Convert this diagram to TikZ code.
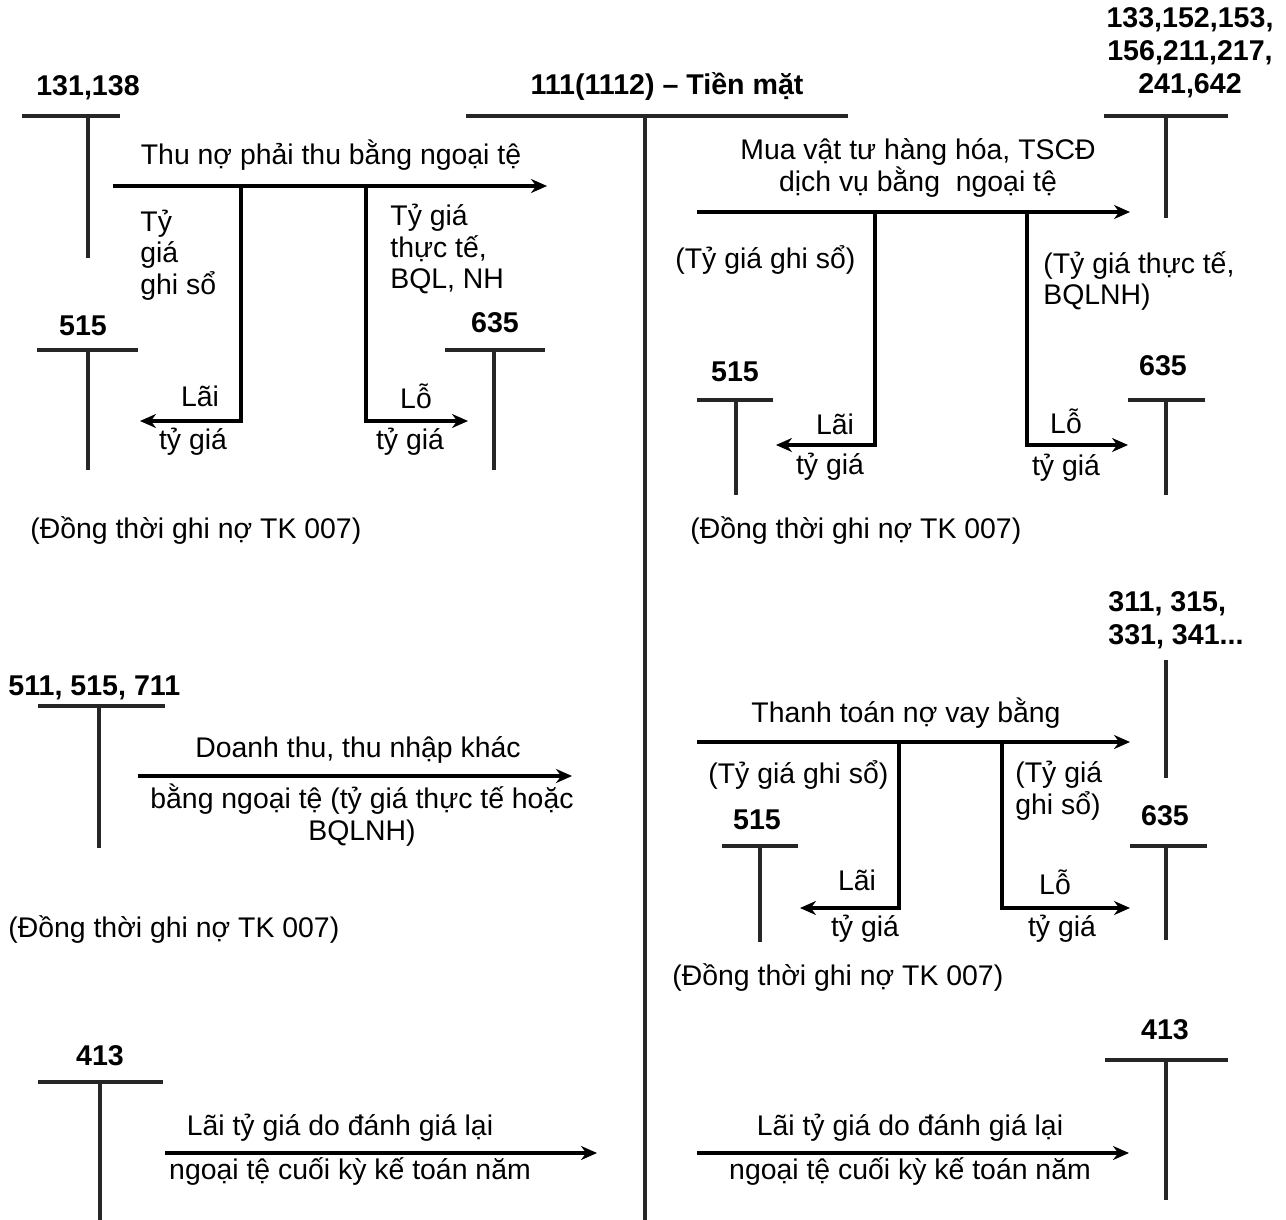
\documentclass[tikz,border=0pt]{standalone}
\usepackage{fontspec}
\setmainfont{Liberation Sans}
\usetikzlibrary{arrows.meta}
\tikzset{
  ln/.style={line width=1.6pt, draw=black!85},
  arr/.style={line width=1.6pt, -{Stealth[length=8pt,width=7pt]}},
  acc/.style={font=\fontsize{14.3}{16.5}\selectfont\bfseries, inner sep=0pt, align=center},
  lbl/.style={font=\fontsize{14.2}{15.8}\selectfont, inner sep=0pt, align=center},
  lbll/.style={font=\fontsize{14.2}{15.8}\selectfont, inner sep=0pt, align=left, anchor=west},
}
\begin{document}
\begin{tikzpicture}[x=0.5pt,y=-0.5pt]
\useasboundingbox (0,0) rectangle (1286,1220);
% ---------- central account 111 ----------
\node[acc] (t111) at (667,86) {111(1112) -- Tiền mặt};
\coordinate (m1) at (466,116); \coordinate (m2) at (848,116);
\coordinate (mv1) at (645,116); \coordinate (mv2) at (645,1220);
\draw[ln] (m1) -- (m2);
\draw[ln] (mv1) -- (mv2);

% ---------- top left: 131,138 ----------
\node[acc] (t131) at (88,88) {131,138};
\coordinate (a1) at (22,116); \coordinate (a2) at (120,116);
\coordinate (a3) at (88,116); \coordinate (a4) at (88,258);
\draw[ln] (a1) -- (a2); \draw[ln] (a3) -- (a4);
\coordinate (b1) at (113,186); \coordinate (b2) at (547,186);
\draw[arr] (b1) -- (b2);
\node[lbl] (l1) at (331,155) {Thu nợ phải thu bằng ngoại tệ};
\node[lbll, align=left] (l2) at (140,255) {Tỷ\\giá\\ghi sổ};
\node[lbll, align=left] (l3) at (390,249) {Tỷ giá\\thực tế,\\BQL, NH};
\coordinate (c1) at (241,186); \coordinate (c2) at (140,421);
\coordinate (c3) at (366,186); \coordinate (c4) at (468,421);
\draw[arr] (c1) |- (c2);
\draw[arr] (c3) |- (c4);
\node[lbl] (l4) at (200,396) {Lãi};
\node[lbl] (l5) at (193,442) {tỷ giá};
\node[lbl] (l6) at (416,396) {Lỗ};
\node[lbl] (l7) at (410,442) {tỷ giá};
% 515
\node[acc] (t515a) at (83,326) {515};
\coordinate (d1) at (37,350); \coordinate (d2) at (138,350);
\coordinate (d3) at (88,350); \coordinate (d4) at (88,470);
\draw[ln] (d1) -- (d2); \draw[ln] (d3) -- (d4);
% 635
\node[acc] (t635a) at (495,323) {635};
\coordinate (e1) at (445,350); \coordinate (e2) at (545,350);
\coordinate (e3) at (494,350); \coordinate (e4) at (494,470);
\draw[ln] (e1) -- (e2); \draw[ln] (e3) -- (e4);
\node[lbll] (n1) at (30,531) {(Đồng thời ghi nợ TK 007)};

% ---------- top right: 133,... ----------
\node[acc] (t133) at (1190,53) {133,152,153,\\156,211,217,\\241,642};
\coordinate (f1) at (1104,116); \coordinate (f2) at (1228,116);
\coordinate (f3) at (1166,116); \coordinate (f4) at (1166,218);
\draw[ln] (f1) -- (f2); \draw[ln] (f3) -- (f4);
\coordinate (g1) at (697,212); \coordinate (g2) at (1130,212);
\draw[arr] (g1) -- (g2);
\node[lbl] (l8) at (918,168) {Mua vật tư hàng hóa, TSCĐ\\dịch vụ bằng\ \ ngoại tệ};
\node[lbll] (l9) at (675,260) {(Tỷ giá ghi sổ)};
\node[lbll] (l10) at (1043,281) {(Tỷ giá thực tế,\\BQLNH)};
\coordinate (h1) at (875,212); \coordinate (h2) at (776,445);
\coordinate (h3) at (1027,212); \coordinate (h4) at (1128,445);
\draw[arr] (h1) |- (h2);
\draw[arr] (h3) |- (h4);
\node[lbl] (l11) at (835,424) {Lãi};
\node[lbl] (l12) at (830,467) {tỷ giá};
\node[lbl] (l13) at (1066,421) {Lỗ};
\node[lbl] (l14) at (1066,468) {tỷ giá};
\node[acc] (t515b) at (735,372) {515};
\coordinate (i1) at (697,400); \coordinate (i2) at (773,400);
\coordinate (i3) at (736,400); \coordinate (i4) at (736,495);
\draw[ln] (i1) -- (i2); \draw[ln] (i3) -- (i4);
\node[acc] (t635b) at (1163,366) {635};
\coordinate (j1) at (1128,400); \coordinate (j2) at (1205,400);
\coordinate (j3) at (1166,400); \coordinate (j4) at (1166,495);
\draw[ln] (j1) -- (j2); \draw[ln] (j3) -- (j4);
\node[lbll] (n2) at (690,531) {(Đồng thời ghi nợ TK 007)};

% ---------- middle right: 311,... ----------
\node[acc, align=left, anchor=west] (t311) at (1108,620) {311, 315,\\331, 341...};
\coordinate (k1) at (1166,660); \coordinate (k2) at (1166,778);
\draw[ln] (k1) -- (k2);
\coordinate (o1) at (697,742); \coordinate (o2) at (1130,742);
\draw[arr] (o1) -- (o2);
\node[lbl] (l15) at (906,713) {Thanh toán nợ vay bằng};
\node[lbll] (l16) at (708,775) {(Tỷ giá ghi sổ)};
\node[lbll] (l17) at (1015,791) {(Tỷ giá\\ghi sổ)};
\coordinate (p1) at (899,742); \coordinate (p2) at (800,908);
\coordinate (p3) at (1002,742); \coordinate (p4) at (1130,908);
\draw[arr] (p1) |- (p2);
\draw[arr] (p3) |- (p4);
\node[lbl] (l18) at (857,880) {Lãi};
\node[lbl] (l19) at (865,929) {tỷ giá};
\node[lbl] (l20) at (1055,882) {Lỗ};
\node[lbl] (l21) at (1062,929) {tỷ giá};
\node[acc] (t515c) at (757,820) {515};
\coordinate (q1) at (722,846); \coordinate (q2) at (798,846);
\coordinate (q3) at (760,846); \coordinate (q4) at (760,942);
\draw[ln] (q1) -- (q2); \draw[ln] (q3) -- (q4);
\node[acc] (t635c) at (1165,816) {635};
\coordinate (r1) at (1130,846); \coordinate (r2) at (1207,846);
\coordinate (r3) at (1166,846); \coordinate (r4) at (1166,940);
\draw[ln] (r1) -- (r2); \draw[ln] (r3) -- (r4);
\node[lbll] (n3) at (672,978) {(Đồng thời ghi nợ TK 007)};

% ---------- middle left: 511,515,711 ----------
\node[acc, anchor=west] (t511) at (8,688) {511, 515, 711};
\coordinate (s1) at (38,706); \coordinate (s2) at (165,706);
\coordinate (s3) at (99,706); \coordinate (s4) at (99,848);
\draw[ln] (s1) -- (s2); \draw[ln] (s3) -- (s4);
\coordinate (u1) at (138,776); \coordinate (u2) at (572,776);
\draw[arr] (u1) -- (u2);
\node[lbl] (l22) at (358,750) {Doanh thu, thu nhập khác};
\node[lbl] (l23) at (362,815) {bằng ngoại tệ (tỷ giá thực tế hoặc\\BQLNH)};
\node[lbll] (n4) at (8,930) {(Đồng thời ghi nợ TK 007)};

% ---------- bottom left: 413 ----------
\node[acc] (t413a) at (100,1056) {413};
\coordinate (w1) at (38,1082); \coordinate (w2) at (163,1082);
\coordinate (w3) at (100,1082); \coordinate (w4) at (100,1220);
\draw[ln] (w1) -- (w2); \draw[ln] (w3) -- (w4);
\coordinate (y1) at (165,1153); \coordinate (y2) at (597,1153);
\draw[arr] (y1) -- (y2);
\node[lbl] (l24) at (340,1128) {Lãi tỷ giá do đánh giá lại};
\node[lbl] (l25) at (350,1172) {ngoại tệ cuối kỳ kế toán năm};

% ---------- bottom right: 413 ----------
\node[acc] (t413b) at (1165,1030) {413};
\coordinate (z1) at (1105,1060); \coordinate (z2) at (1228,1060);
\coordinate (z3) at (1166,1060); \coordinate (z4) at (1166,1200);
\draw[ln] (z1) -- (z2); \draw[ln] (z3) -- (z4);
\coordinate (zz1) at (697,1153); \coordinate (zz2) at (1129,1153);
\draw[arr] (zz1) -- (zz2);
\node[lbl] (l26) at (910,1128) {Lãi tỷ giá do đánh giá lại};
\node[lbl] (l27) at (910,1172) {ngoại tệ cuối kỳ kế toán năm};
\end{tikzpicture}
\end{document}
